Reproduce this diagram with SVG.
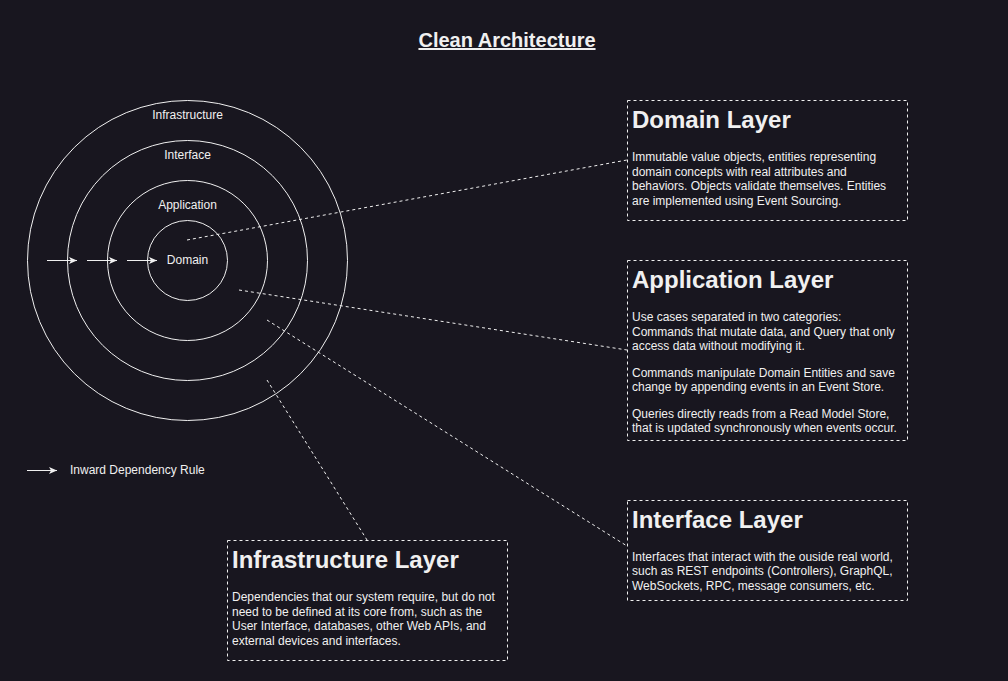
<svg xmlns="http://www.w3.org/2000/svg" width="1008" height="681" viewBox="0 0 1008 681">
<defs>
<marker id="arr" markerWidth="10" markerHeight="10" refX="9" refY="5" orient="auto" markerUnits="userSpaceOnUse">
<path d="M1,1.5 L9,5 L1,8.5 L3,5 Z" fill="#f0f0f0"/>
</marker>
<style>
.bg{fill:#18161f}
.ring{fill:none;stroke:#f0f0f0;stroke-width:1}
.lbl{font-family:"Liberation Sans",Arial,sans-serif;font-size:12px;fill:#f0f0f0;text-anchor:middle}
.dash{fill:none;stroke:#f0f0f0;stroke-width:1;stroke-dasharray:3 3}
.box{fill:none;stroke:#f0f0f0;stroke-width:1;stroke-dasharray:3 3}
.ttl{font-family:"Liberation Sans",Arial,sans-serif;font-size:24px;font-weight:bold;fill:#f0f0f0}
.body{font-family:"Liberation Sans",Arial,sans-serif;font-size:12px;fill:#f0f0f0}
.arrow{stroke:#f0f0f0;stroke-width:1;fill:none}
</style>
</defs>
<rect class="bg" x="0" y="0" width="1008" height="681"/>
<g id="title">
<text x="507" y="47" font-family="Liberation Sans,Arial,sans-serif" font-size="20" font-weight="bold" fill="#f0f0f0" text-anchor="middle" text-decoration="underline">Clean Architecture</text>
</g>
<g id="ring-infrastructure">
<circle class="ring" cx="187.5" cy="260.5" r="160"/>
<text class="lbl" x="187.5" y="119">Infrastructure</text>
</g>
<g id="ring-interface">
<circle class="ring" cx="187.5" cy="260.5" r="120"/>
<text class="lbl" x="187.5" y="159">Interface</text>
</g>
<g id="ring-application">
<circle class="ring" cx="187.5" cy="260.5" r="80"/>
<text class="lbl" x="187.5" y="209">Application</text>
</g>
<g id="ring-domain">
<circle class="ring" cx="187.5" cy="260.5" r="40"/>
<text class="lbl" x="187.5" y="264">Domain</text>
</g>
<g id="connectors">
<line class="arrow" x1="47" y1="260.5" x2="77" y2="260.5" marker-end="url(#arr)"/>
<line class="arrow" x1="87" y1="260.5" x2="117" y2="260.5" marker-end="url(#arr)"/>
<line class="arrow" x1="127" y1="260.5" x2="157" y2="260.5" marker-end="url(#arr)"/>
<line class="dash" x1="187" y1="240" x2="627" y2="160"/>
<line class="dash" x1="239" y1="290" x2="627" y2="350"/>
<line class="dash" x1="267" y1="320" x2="627" y2="546"/>
<line class="dash" x1="267" y1="380" x2="367" y2="540"/>
</g>
<g id="legend">
<line class="arrow" x1="27" y1="470.5" x2="57" y2="470.5" marker-end="url(#arr)"/>
<text class="body" x="70" y="474">Inward Dependency Rule</text>
</g>
<g id="domain-layer">
<rect class="box" x="627.5" y="100.5" width="280" height="120"/>
<text class="ttl" x="632" y="128">Domain Layer</text>
<text class="body" x="632" y="161">Immutable value objects, entities representing</text>
<text class="body" x="632" y="175.5">domain concepts with real attributes and</text>
<text class="body" x="632" y="190">behaviors. Objects validate themselves. Entities</text>
<text class="body" x="632" y="204.5">are implemented using Event Sourcing.</text>
</g>
<g id="application-layer">
<rect class="box" x="627.5" y="260.5" width="280" height="180"/>
<text class="ttl" x="632" y="288">Application Layer</text>
<text class="body" x="632" y="321">Use cases separated in two categories:</text>
<text class="body" x="632" y="335.5">Commands that mutate data, and Query that only</text>
<text class="body" x="632" y="350">access data without modifying it.</text>
<text class="body" x="632" y="376.5">Commands manipulate Domain Entities and save</text>
<text class="body" x="632" y="391">change by appending events in an Event Store.</text>
<text class="body" x="632" y="417.5">Queries directly reads from a Read Model Store,</text>
<text class="body" x="632" y="432">that is updated synchronously when events occur.</text>
</g>
<g id="interface-layer">
<rect class="box" x="627.5" y="500.5" width="280" height="100"/>
<text class="ttl" x="632" y="528">Interface Layer</text>
<text class="body" x="632" y="560.5">Interfaces that interact with the ouside real world,</text>
<text class="body" x="632" y="575">such as REST endpoints (Controllers), GraphQL,</text>
<text class="body" x="632" y="589.5">WebSockets, RPC, message consumers, etc.</text>
</g>
<g id="infrastructure-layer">
<rect class="box" x="227.5" y="540.5" width="280" height="120"/>
<text class="ttl" x="232" y="568">Infrastructure Layer</text>
<text class="body" x="232" y="601">Dependencies that our system require, but do not</text>
<text class="body" x="232" y="615.5">need to be defined at its core from, such as the</text>
<text class="body" x="232" y="630">User Interface, databases, other Web APIs, and</text>
<text class="body" x="232" y="644.5">external devices and interfaces.</text>
</g>
</svg>
